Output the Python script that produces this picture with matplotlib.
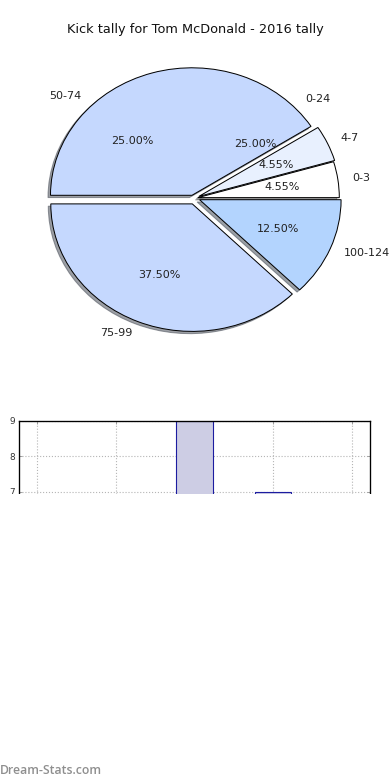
import matplotlib
matplotlib.use('Agg')
import matplotlib.pyplot as plt
from matplotlib.patches import Shadow, Rectangle

title = "Kick tally for Tom McDonald - 2016 tally"

range_labels = ['0-24', '50-74', '75-99', '100-124']
range_counts = [2, 2, 3, 1]
range_colors = ['#c5d8fe', '#c5d8fe', '#c5d8fe', '#b3d4fe']
range_explode = [0.0, 0.03, 0.05, 0.035]

sub_labels = ['0-3', '4-7', '']
sub_counts = [1, 1, 20]
sub_colors = ['#ffffff', '#e8f0fe', '#ffffff']
sub_explode = [0.02, 0.03, 0.0]

bar_categories = ['0-24', '25-49', '50-74', '75-99', '100-124']
bar_values = [2, 3, 9, 7, 1]

W, H = 390, 780
fig = plt.figure(figsize=(W / 80, H / 80), dpi=80)

# ---- pie ----
rx, ry, cx, cy = 141.5, 127.5, 195, 198
ax = fig.add_axes([(cx - 1.25 * rx) / W, 1 - (cy + 1.25 * ry) / H,
                   2.5 * rx / W, 2.5 * ry / H])
wp = dict(edgecolor='black', linewidth=0.9)
tp = dict(fontsize=10, color='#222222')
sh = dict(ox=-0.016, oy=-0.016)
wA, tA, aA = ax.pie(range_counts, labels=range_labels, colors=range_colors,
                    explode=range_explode, autopct='%1.2f%%', shadow=sh,
                    wedgeprops=wp, textprops=tp)
wB, tB, aB = ax.pie(sub_counts, labels=sub_labels, colors=sub_colors,
                    explode=sub_explode, autopct='%1.2f%%', shadow=sh,
                    wedgeprops=wp, textprops=tp)
ax.set_aspect('auto')

hidden = [wA[0], wB[2]]
for p in list(ax.patches):
    if p in hidden:
        p.set_visible(False)
    if isinstance(p, Shadow) and p.patch in hidden:
        p.set_visible(False)
aB[2].set_visible(False)
# big upper wedge continues from the 4-7 slice edge
wA[1].set_theta1(wB[1].theta2)

fig.text(0.5, 1 - 30 / H, title, ha='center', va='center', fontsize=11.6,
         color='#111111')

# ---- bars ----
ppu = 35.5
bottom_px = 497
ax2 = fig.add_axes([19 / W, 1 - bottom_px / H, 351 / W, (bottom_px - 421) / H])
x = list(range(len(bar_categories)))
ax2.bar(x, bar_values, width=0.46, color='#cdcde4', edgecolor='#1c1ca0',
        linewidth=1.0, zorder=2)
ax2.set_xlim(-0.23, len(bar_categories) - 1 + 0.23)
ax2.set_ylim(9 - (bottom_px - 421) / ppu, 9)
ax2.set_yticks([7, 8, 9])
ax2.set_xticks(x)
ax2.set_xticklabels(bar_categories)
ax2.grid(True, linestyle=':', color='#b5b5b5', linewidth=1.0, zorder=0)
ax2.set_axisbelow(True)
ax2.tick_params(direction='in', labelsize=8, length=3, top=True, right=True,
                labelbottom=False, color='#999999', labelcolor='#333333')
for s in ax2.spines.values():
    s.set_linewidth(1.2)

cover = Rectangle((0, 0), 1, 1 - 493.5 / H, transform=fig.transFigure,
                  facecolor='white', edgecolor='none', zorder=2)
fig.patches.append(cover)

fig.text(0.0, 1 - 770 / H, 'Dream-Stats.com', ha='left', va='center',
         fontsize=11, family='Open Sans', weight='semibold', color='#8f8f8f',
         zorder=5)

fig.savefig('out.png', dpi=80)
